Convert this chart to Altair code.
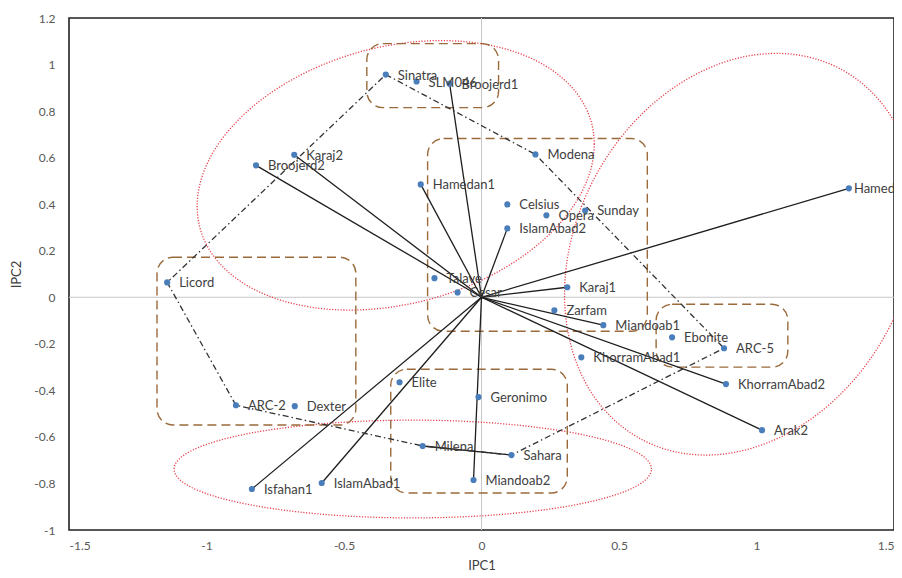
import altair as alt
import numpy as np
import pandas as pd

# ---------------- data ----------------
names = ["Sinatra", "SLM046", "Broojerd1", "Karaj2", "Broojerd2", "Hamedan1",
         "Modena", "Celsius", "Opera", "Sunday", "IslamAbad2", "Hamedan2",
         "Talave", "Cesar", "Licord", "Karaj1", "Zarfam", "Miandoab1",
         "Ebonite", "ARC-5", "KhorramAbad1", "KhorramAbad2", "Arak2",
         "Geronimo", "Sahara", "Miandoab2", "Milena", "Elite", "ARC-2",
         "Dexter", "Isfahan1", "IslamAbad1"]
pc1 = [-0.348, -0.236, -0.116, -0.681, -0.820, -0.221,
       0.196, 0.094, 0.236, 0.377, 0.094, 1.336,
       -0.171, -0.087, -1.143, 0.312, 0.265, 0.443,
       0.693, 0.882, 0.363, 0.889, 1.020,
       -0.011, 0.109, -0.029, -0.214, -0.298, -0.893,
       -0.679, -0.835, -0.581]
pc2 = [0.957, 0.927, 0.918, 0.612, 0.567, 0.485,
       0.614, 0.399, 0.352, 0.373, 0.296, 0.468,
       0.082, 0.021, 0.064, 0.043, -0.056, -0.120,
       -0.172, -0.219, -0.258, -0.373, -0.571,
       -0.429, -0.678, -0.785, -0.639, -0.365, -0.464,
       -0.468, -0.824, -0.798]

# environment vectors drawn from the origin
env_vectors = ["Broojerd1", "Broojerd2", "Karaj2", "Hamedan1", "IslamAbad2",
               "Hamedan2", "Karaj1", "Miandoab1", "KhorramAbad2", "Arak2",
               "Miandoab2", "Isfahan1", "IslamAbad1"]
origin = [0.0, 0.0]

# polygon (dash-dot) vertices in drawing order
hull_order = ["Sinatra", "Modena", "ARC-5", "Sahara", "Milena", "ARC-2",
              "Licord", "Sinatra"]
solid_segment = ["Milena", "Sahara"]

# dashed rounded boxes (data units)
box_x1 = [-0.417, -0.196, -1.180, 0.635, -0.330]
box_x2 = [0.062, 0.603, -0.457, 1.114, 0.312]
box_y1 = [1.090, 0.682, 0.172, -0.030, -0.309]
box_y2 = [0.815, -0.146, -0.549, -0.300, -0.841]

# dotted ellipses: centre, semi-ranges, correlation
ell_cx = [-0.312, 0.944, -0.250]
ell_cy = [0.524, 0.185, -0.738]
ell_ax = [0.722, 0.642, 0.868]
ell_ay = [0.579, 0.863, 0.210]
ell_rho = [0.23, 0.20, 0.0]

x_ticks = [-1.5, -1, -0.5, 0, 0.5, 1, 1.5]
y_ticks = [-1, -0.8, -0.6, -0.4, -0.2, 0, 0.2, 0.4, 0.6, 0.8, 1, 1.2]

# ---------------- tables ----------------
pts = pd.DataFrame({"name": names, "x": pc1, "y": pc2})
lookup = pts.set_index("name")

vec_rows = []
for n in env_vectors:
    vec_rows.append({"id": n, "o": 0, "x": origin[0], "y": origin[1]})
    vec_rows.append({"id": n, "o": 1, "x": lookup.loc[n, "x"], "y": lookup.loc[n, "y"]})
for k, n in enumerate(solid_segment):
    vec_rows.append({"id": "seg", "o": k, "x": lookup.loc[n, "x"], "y": lookup.loc[n, "y"]})
vec = pd.DataFrame(vec_rows)

hull = pd.DataFrame({"o": list(range(len(hull_order))),
                     "x": [lookup.loc[n, "x"] for n in hull_order],
                     "y": [lookup.loc[n, "y"] for n in hull_order]})

boxes = pd.DataFrame({"x1": box_x1, "x2": box_x2, "y1": box_y1, "y2": box_y2})

t = np.linspace(0, 2 * np.pi, 241)
ell_rows = []
for k in range(len(ell_cx)):
    r = ell_rho[k]
    ex = ell_cx[k] + ell_ax[k] * np.cos(t)
    ey = ell_cy[k] + ell_ay[k] * (r * np.cos(t) + np.sqrt(1 - r * r) * np.sin(t))
    for j in range(len(t)):
        ell_rows.append({"id": k, "o": j, "x": float(ex[j]), "y": float(ey[j])})
ell = pd.DataFrame(ell_rows)

zero = pd.DataFrame({"v": [0.0]})

# ---------------- chart ----------------
xs = alt.Scale(domain=[-1.5, 1.5], nice=False, zero=False)
ys = alt.Scale(domain=[-1, 1.2], nice=False, zero=False)
FONT = "Lato"

xaxis = alt.Axis(values=x_ticks, title="IPC1", labelExpr="'' + datum.value",
                 grid=False, ticks=False, domain=False, labelPadding=10,
                 titlePadding=8)
yaxis = alt.Axis(values=y_ticks, title="IPC2", labelExpr="'' + datum.value",
                 grid=False, ticks=False, domain=False, labelPadding=14,
                 titlePadding=10)

base_x = alt.X("x:Q", scale=xs, axis=xaxis)
base_y = alt.Y("y:Q", scale=ys, axis=yaxis)

zx = alt.Chart(zero).mark_rule(color="#c8c8c8", strokeWidth=1).encode(
    x=alt.X("v:Q", scale=xs, axis=xaxis))
zy = alt.Chart(zero).mark_rule(color="#c8c8c8", strokeWidth=1).encode(
    y=alt.Y("v:Q", scale=ys, axis=yaxis))

ellipses = alt.Chart(ell).mark_line(color="#e8404f", strokeWidth=1.3,
                                    strokeDash=[1.2, 1.6]).encode(
    x=alt.X("x:Q", scale=xs, axis=xaxis), y=alt.Y("y:Q", scale=ys, axis=yaxis),
    detail="id:N", order="o:Q")

rects = alt.Chart(boxes).mark_rect(fillOpacity=0, stroke="#9a6a3a",
                                   strokeWidth=1.4, strokeDash=[9, 5],
                                   cornerRadius=16).encode(
    x=alt.X("x1:Q", scale=xs, axis=xaxis), x2="x2:Q",
    y=alt.Y("y1:Q", scale=ys, axis=yaxis), y2="y2:Q")

vectors = alt.Chart(vec).mark_line(color="#1e1e1e", strokeWidth=1.3).encode(
    x=alt.X("x:Q", scale=xs, axis=xaxis), y=alt.Y("y:Q", scale=ys, axis=yaxis),
    detail="id:N", order="o:Q")

polygon = alt.Chart(hull).mark_line(color="#333333", strokeWidth=1.3,
                                    strokeDash=[6, 3, 1.5, 3]).encode(
    x=alt.X("x:Q", scale=xs, axis=xaxis), y=alt.Y("y:Q", scale=ys, axis=yaxis),
    order="o:Q")

points = alt.Chart(pts).mark_circle(size=38, color="#4a7ebb", opacity=1).encode(
    x=base_x, y=base_y)

labels = alt.Chart(pts).transform_filter(alt.datum.name != "Hamedan2").mark_text(
    align="left", baseline="middle", dx=12, dy=1, font=FONT, fontSize=13,
    color="#404040").encode(x=base_x, y=base_y, text="name:N")
label_h2 = alt.Chart(pts).transform_filter(alt.datum.name == "Hamedan2").mark_text(
    align="left", baseline="middle", dx=5, dy=1, font=FONT, fontSize=13,
    color="#404040").encode(x=base_x, y=base_y, text="name:N")

chart = alt.layer(zx, zy, ellipses, rects, vectors, polygon, points, labels,
                  label_h2).properties(
    width=825, height=512,
    autosize=alt.AutoSizeParams(type="none"),
    padding={"left": 61, "top": 10, "right": 0, "bottom": 46},
    background="white",
).configure_view(stroke="#222222", strokeWidth=1.6).configure_axis(
    labelFont=FONT, labelFontSize=12, labelColor="#595959",
    titleFont=FONT, titleFontSize=13, titleFontWeight="normal",
    titleColor="#404040")

chart.save("out.html", embed_options={"renderer": "svg", "actions": False})
